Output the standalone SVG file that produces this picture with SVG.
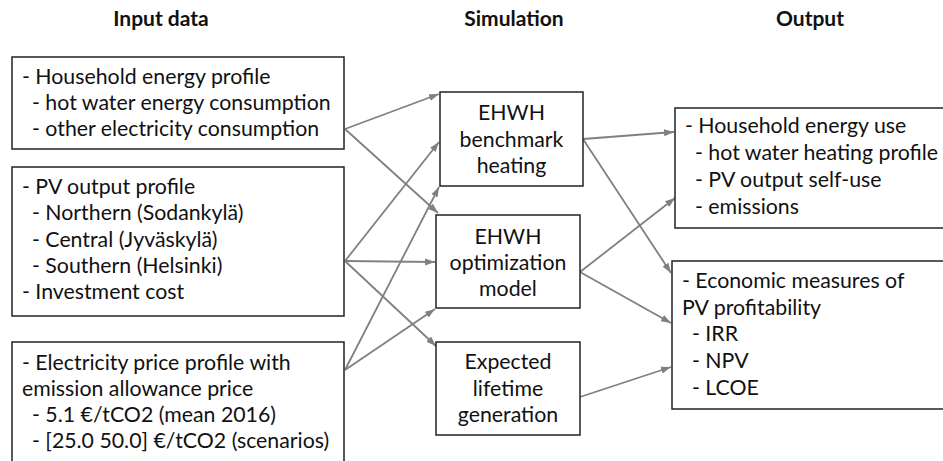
<svg xmlns="http://www.w3.org/2000/svg" width="943" height="461" viewBox="0 0 943 461">
<style>
.box{fill:#fff;stroke:#222;stroke-width:1.5}
.t{font-family:Lato,"Open Sans",sans-serif;font-size:21.3px;fill:#111}
.c{text-anchor:middle}
.h{font-family:Lato,"Open Sans",sans-serif;font-size:21px;font-weight:bold;fill:#111;text-anchor:middle}
.ln{stroke:#808080;stroke-width:1.8;fill:none;marker-end:url(#ah)}
</style>
<defs>
<marker id="ah" markerUnits="userSpaceOnUse" markerWidth="10" markerHeight="8" refX="10" refY="4" orient="auto">
<path d="M0,0.5 L10,4 L0,7.5 z" fill="#808080"/>
</marker>
</defs>
<rect width="943" height="461" fill="#fff"/>
<g id="headers">
<text class="h" x="161" y="26">Input data</text>
<text class="h" x="514" y="26">Simulation</text>
<text class="h" x="810" y="26">Output</text>
</g>
<g id="connectors">
<line class="ln" x1="345" y1="129" x2="439" y2="94"/>
<line class="ln" x1="345" y1="129" x2="438" y2="213"/>
<line class="ln" x1="345" y1="261" x2="439" y2="142"/>
<line class="ln" x1="345" y1="261" x2="435" y2="262"/>
<line class="ln" x1="345" y1="261" x2="436" y2="346"/>
<line class="ln" x1="345" y1="370" x2="439" y2="187"/>
<line class="ln" x1="345" y1="370" x2="435" y2="309"/>
<line class="ln" x1="583" y1="139" x2="674" y2="132"/>
<line class="ln" x1="583" y1="139" x2="671" y2="273"/>
<line class="ln" x1="580" y1="272" x2="675" y2="198"/>
<line class="ln" x1="580" y1="272" x2="671" y2="323"/>
<line class="ln" x1="580" y1="397" x2="671" y2="367"/>
</g>
<g id="input-household">
<rect class="box" x="12" y="57" width="332" height="92"/>
<text class="t" x="22" y="84">- Household energy profile</text>
<text class="t" x="32" y="110">- hot water energy consumption</text>
<text class="t" x="32" y="136">- other electricity consumption</text>
</g>
<g id="input-pv">
<rect class="box" x="12" y="167" width="332" height="149"/>
<text class="t" x="22" y="194">- PV output profile</text>
<text class="t" x="32" y="220">- Northern (Sodankylä)</text>
<text class="t" x="32" y="247">- Central (Jyväskylä)</text>
<text class="t" x="32" y="273">- Southern (Helsinki)</text>
<text class="t" x="22" y="299">- Investment cost</text>
</g>
<g id="input-price">
<rect class="box" x="12" y="342" width="332" height="130"/>
<text class="t" x="22" y="370">- Electricity price profile with</text>
<text class="t" x="22" y="396">emission allowance price</text>
<text class="t" x="32" y="422">- 5.1 €/tCO2 (mean 2016)</text>
<text class="t" x="32" y="448">- [25.0 50.0] €/tCO2 (scenarios)</text>
</g>
<g id="sim-benchmark">
<rect class="box" x="440" y="92" width="143" height="94"/>
<text class="t c" x="511.5" y="120">EHWH</text>
<text class="t c" x="511.5" y="147">benchmark</text>
<text class="t c" x="511.5" y="173">heating</text>
</g>
<g id="sim-optimization">
<rect class="box" x="436" y="215" width="144" height="93"/>
<text class="t c" x="508" y="244">EHWH</text>
<text class="t c" x="508" y="270">optimization</text>
<text class="t c" x="508" y="296">model</text>
</g>
<g id="sim-lifetime">
<rect class="box" x="436" y="342" width="144" height="93"/>
<text class="t c" x="508" y="369">Expected</text>
<text class="t c" x="508" y="396">lifetime</text>
<text class="t c" x="508" y="422">generation</text>
</g>
<g id="out-household">
<rect class="box" x="675" y="108" width="280" height="120"/>
<text class="t" x="685" y="133">- Household energy use</text>
<text class="t" x="695" y="160">- hot water heating profile</text>
<text class="t" x="695" y="187">- PV output self-use</text>
<text class="t" x="695" y="214">- emissions</text>
</g>
<g id="out-economic">
<rect class="box" x="672" y="261" width="283" height="148"/>
<text class="t" x="682" y="288">- Economic measures of</text>
<text class="t" x="682" y="315">PV profitability</text>
<text class="t" x="692" y="341">- IRR</text>
<text class="t" x="692" y="368">- NPV</text>
<text class="t" x="692" y="395">- LCOE</text>
</g>
</svg>
